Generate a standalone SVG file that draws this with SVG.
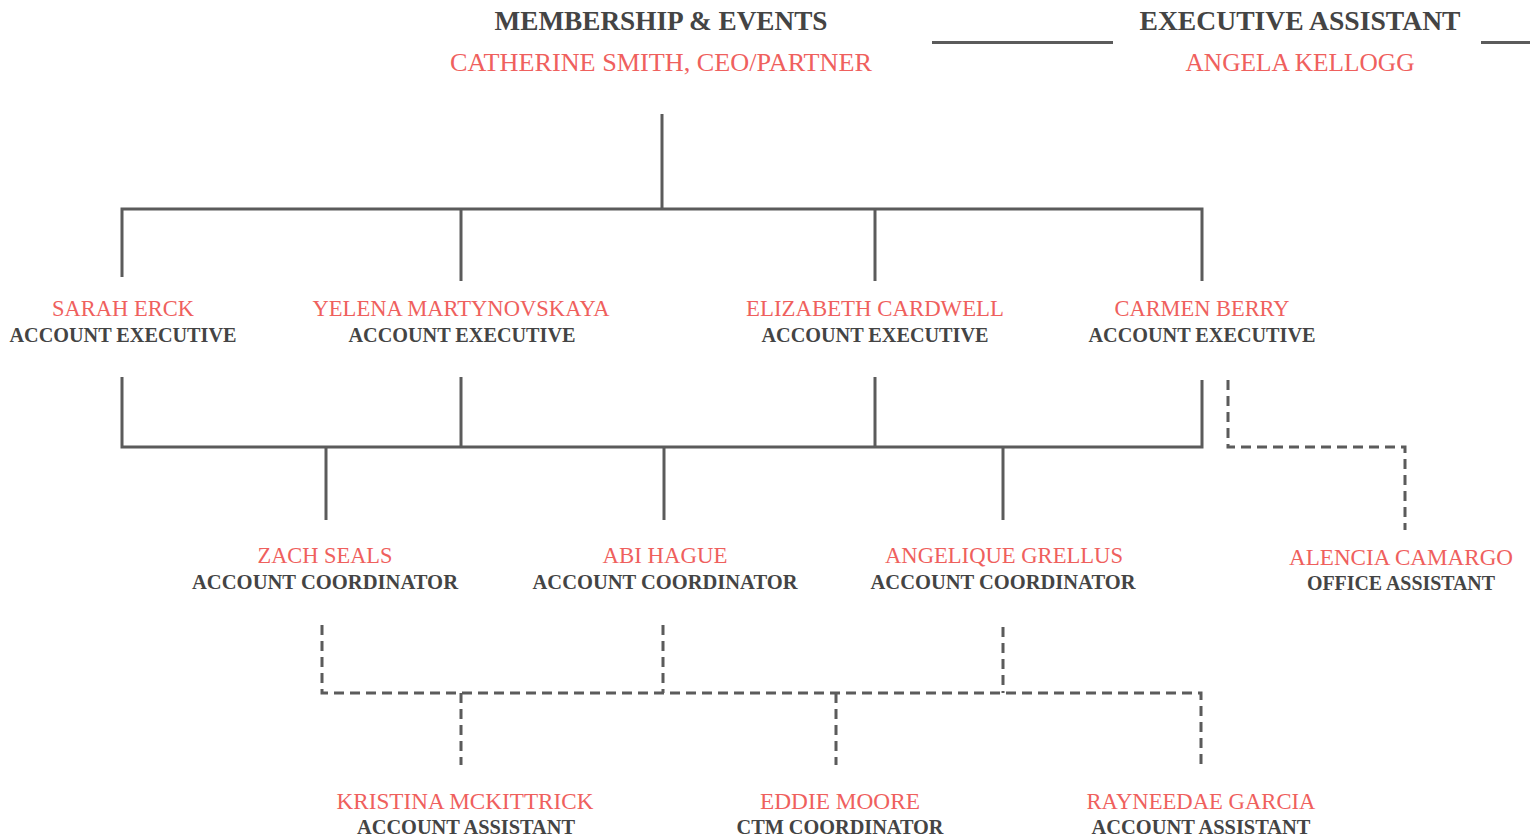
<svg xmlns="http://www.w3.org/2000/svg" width="1530" height="840" viewBox="0 0 1530 840">
<style>
text{font-family:"Liberation Serif","DejaVu Serif",serif;text-anchor:middle}
.t{font-size:27px;font-weight:bold;fill:#444}
.tn{font-size:25px;fill:#ef605d}
.n{font-size:23px;fill:#ef605d}
.r{font-size:20px;font-weight:bold;fill:#444}
.l{fill:none;stroke:#5b5b5b;stroke-width:3}
.d{fill:none;stroke:#5b5b5b;stroke-width:3;stroke-dasharray:10 6}
</style>
<rect width="1530" height="840" fill="#fff"/>
<g id="connectors">
<line class="l" x1="932" y1="42.5" x2="1113" y2="42.5"/>
<line class="l" x1="1481" y1="42.5" x2="1530" y2="42.5"/>
<line class="l" x1="662" y1="114" x2="662" y2="209"/>
<polyline class="l" points="122,277 122,209 1202,209 1202,281"/>
<line class="l" x1="461" y1="209" x2="461" y2="281"/>
<line class="l" x1="875" y1="209" x2="875" y2="281"/>
<polyline class="l" points="122,377 122,447 1202,447 1202,380"/>
<line class="l" x1="461" y1="377" x2="461" y2="447"/>
<line class="l" x1="875" y1="377" x2="875" y2="447"/>
<line class="l" x1="326" y1="447" x2="326" y2="520"/>
<line class="l" x1="664" y1="447" x2="664" y2="520"/>
<line class="l" x1="1003" y1="447" x2="1003" y2="520"/>
<polyline class="d" points="1228,380 1228,447 1405,447 1405,530"/>
<polyline class="d" points="322,625 322,693 1201,693 1201,765"/>
<line class="d" x1="663" y1="625" x2="663" y2="693"/>
<line class="d" x1="1003" y1="627" x2="1003" y2="693"/>
<line class="d" x1="461" y1="693" x2="461" y2="765"/>
<line class="d" x1="836" y1="693" x2="836" y2="765"/>
</g>
<g id="ceo">
<text class="t" x="661" y="30" textLength="333" lengthAdjust="spacingAndGlyphs">MEMBERSHIP &amp; EVENTS</text>
<text class="tn" x="661" y="71" textLength="422" lengthAdjust="spacingAndGlyphs">CATHERINE SMITH, CEO/PARTNER</text>
</g>
<g id="exec-assistant">
<text class="t" x="1300" y="30" textLength="321" lengthAdjust="spacingAndGlyphs">EXECUTIVE ASSISTANT</text>
<text class="tn" x="1300" y="71" textLength="229" lengthAdjust="spacingAndGlyphs">ANGELA KELLOGG</text>
</g>
<g id="sarah-erck">
<text class="n" x="123" y="316" textLength="142" lengthAdjust="spacingAndGlyphs">SARAH ERCK</text>
<text class="r" x="123" y="342" textLength="227" lengthAdjust="spacingAndGlyphs">ACCOUNT EXECUTIVE</text>
</g>
<g id="yelena">
<text class="n" x="461" y="316" textLength="297" lengthAdjust="spacingAndGlyphs">YELENA MARTYNOVSKAYA</text>
<text class="r" x="462" y="342" textLength="227" lengthAdjust="spacingAndGlyphs">ACCOUNT EXECUTIVE</text>
</g>
<g id="elizabeth">
<text class="n" x="875" y="316" textLength="258" lengthAdjust="spacingAndGlyphs">ELIZABETH CARDWELL</text>
<text class="r" x="875" y="342" textLength="227" lengthAdjust="spacingAndGlyphs">ACCOUNT EXECUTIVE</text>
</g>
<g id="carmen">
<text class="n" x="1202" y="316" textLength="175" lengthAdjust="spacingAndGlyphs">CARMEN BERRY</text>
<text class="r" x="1202" y="342" textLength="227" lengthAdjust="spacingAndGlyphs">ACCOUNT EXECUTIVE</text>
</g>
<g id="zach">
<text class="n" x="325" y="563" textLength="135" lengthAdjust="spacingAndGlyphs">ZACH SEALS</text>
<text class="r" x="325" y="589" textLength="266" lengthAdjust="spacingAndGlyphs">ACCOUNT COORDINATOR</text>
</g>
<g id="abi">
<text class="n" x="665" y="563" textLength="125" lengthAdjust="spacingAndGlyphs">ABI HAGUE</text>
<text class="r" x="665" y="589" textLength="265" lengthAdjust="spacingAndGlyphs">ACCOUNT COORDINATOR</text>
</g>
<g id="angelique">
<text class="n" x="1004" y="563" textLength="238" lengthAdjust="spacingAndGlyphs">ANGELIQUE GRELLUS</text>
<text class="r" x="1003" y="589" textLength="265" lengthAdjust="spacingAndGlyphs">ACCOUNT COORDINATOR</text>
</g>
<g id="alencia">
<text class="n" x="1401" y="565" textLength="224" lengthAdjust="spacingAndGlyphs">ALENCIA CAMARGO</text>
<text class="r" x="1401" y="590" textLength="188" lengthAdjust="spacingAndGlyphs">OFFICE ASSISTANT</text>
</g>
<g id="kristina">
<text class="n" x="465" y="809" textLength="257" lengthAdjust="spacingAndGlyphs">KRISTINA MCKITTRICK</text>
<text class="r" x="466" y="834" textLength="218" lengthAdjust="spacingAndGlyphs">ACCOUNT ASSISTANT</text>
</g>
<g id="eddie">
<text class="n" x="840" y="809" textLength="160" lengthAdjust="spacingAndGlyphs">EDDIE MOORE</text>
<text class="r" x="840" y="834" textLength="207" lengthAdjust="spacingAndGlyphs">CTM COORDINATOR</text>
</g>
<g id="rayneedae">
<text class="n" x="1201" y="809" textLength="229" lengthAdjust="spacingAndGlyphs">RAYNEEDAE GARCIA</text>
<text class="r" x="1201" y="834" textLength="219" lengthAdjust="spacingAndGlyphs">ACCOUNT ASSISTANT</text>
</g>
</svg>
